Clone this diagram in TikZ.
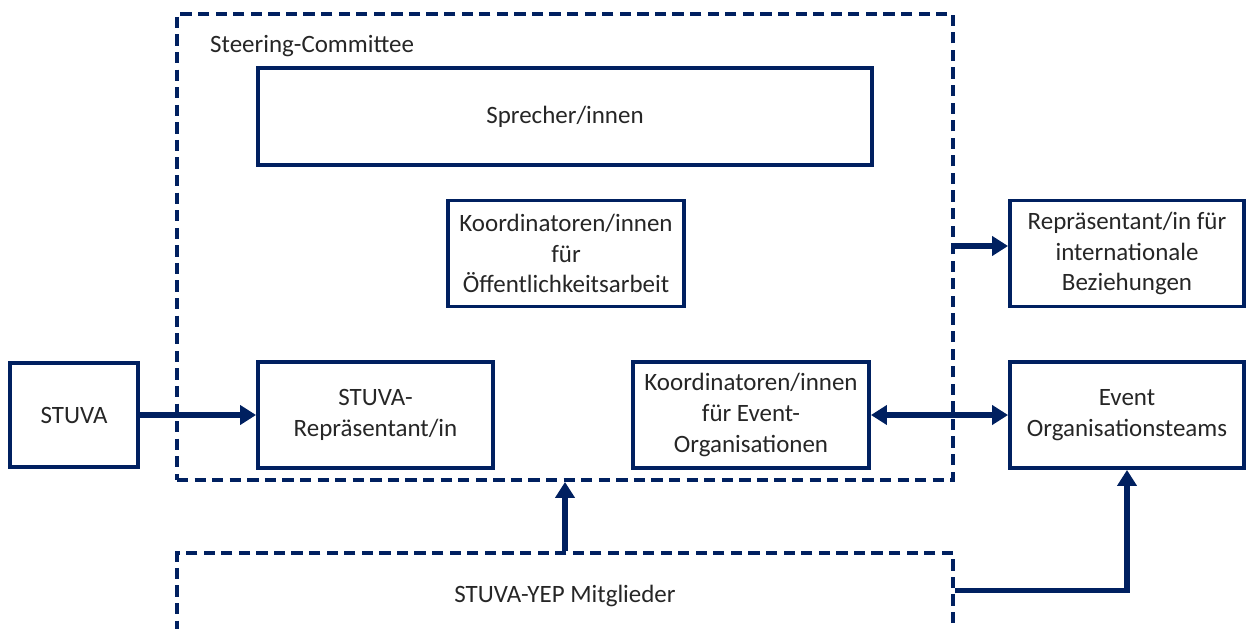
\documentclass[tikz,border=0pt]{standalone}
\usepackage{fontspec}
\setmainfont{Carlito}
\usepackage{tikz}
\usetikzlibrary{arrows.meta, positioning, calc}
\definecolor{navy}{RGB}{0,32,96}
\definecolor{txt}{RGB}{38,38,38}
\tikzstyle{box} = [draw=navy, line width=2.2pt, align=center, text=txt, font=\fontsize{14.2}{17.5}\selectfont,
                   minimum width=4.72cm, minimum height=2.12cm, inner sep=2pt]
\tikzstyle{group} = [draw=navy, line width=2.2pt, dash pattern=on 6.4pt off 3.6pt, text=txt,
                     font=\fontsize{14.2}{17.5}\selectfont]
\tikzstyle{link} = [draw=navy, line width=3.4pt, -{Triangle[length=3.2mm, width=3.8mm]}]

\begin{document}
\begin{tikzpicture}
	\useasboundingbox (0, 0) rectangle (25.04, -12.56);

	% committee and members
	\node (Steering) [group, minimum width=15.52cm, minimum height=9.32cm] at (11.3, -4.94) {};
	\node (SteeringLabel) [anchor=west, text=txt, font=\fontsize{14.2}{17.5}\selectfont] at (4.08, -0.92) {Steering-Committee};
	\node (Members) [group, minimum width=15.52cm, minimum height=1.7cm] at (11.3, -11.91) {STUVA-YEP Mitglieder};

	% inside the committee
	\node (Speaker) [box, minimum width=12.28cm, minimum height=1.94cm] at (11.3, -2.33) {Sprecher/innen};
	\node (Press) [box] at (11.32, -5.07) {Koordinatoren/innen\\für\\Öffentlichkeitsarbeit};
	\node (StuvaRep) [box, minimum width=4.7cm] at (7.51, -8.3) {STUVA-\\Repräsentant/in};
	\node (EventCoord) [box] at (15.02, -8.3) {Koordinatoren/innen\\für Event-\\Organisationen};

	% outside
	\node (Stuva) [box, minimum width=2.56cm, minimum height=2.08cm] at (1.48, -8.3) {STUVA};
	\node (Intl) [box, minimum width=4.68cm] at (22.54, -5.07) {Repräsentant/in für\\internationale\\Beziehungen};
	\node (EventTeams) [box, minimum width=4.68cm] at (22.54, -8.3) {Event\\Organisationsteams};

	% connections
	\draw [link] (Stuva) -- (StuvaRep);
	\draw [link, {Triangle[length=3.2mm, width=3.8mm]}-{Triangle[length=3.2mm, width=3.8mm]}] (EventCoord) -- (EventTeams);
	\coordinate (IntlIn) at ($(Intl.west) + (0, 0.15)$);
	\draw [link] (Steering.east |- IntlIn) -- (IntlIn);
	\draw [link] (Members.north) -- (Steering.south);
	\coordinate (MembersOut) at ($(Members.east) + (0, 0.1)$);
	\coordinate (Corner) at (EventTeams.south |- MembersOut);
	\draw [link] (MembersOut) -- (Corner) -- (EventTeams.south);
\end{tikzpicture}
\end{document}
